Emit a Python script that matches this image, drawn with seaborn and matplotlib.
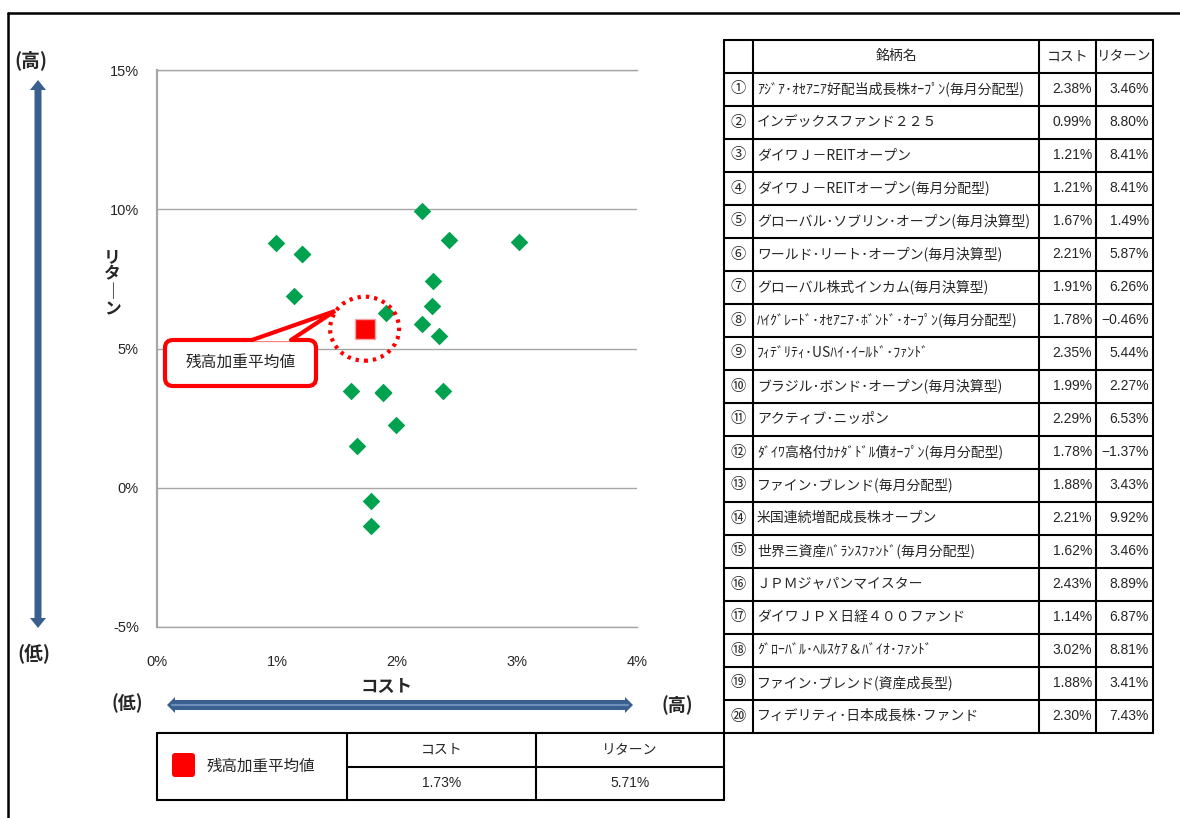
import numpy as np
import pandas as pd
import matplotlib
matplotlib.use('Agg')
import matplotlib.pyplot as plt
import matplotlib.font_manager as fm
from matplotlib.patches import FancyBboxPatch, Polygon, Ellipse, Rectangle, FancyArrow
import seaborn as sns

# data
fund_names = [
    'ｱｼﾞｱ･ｵｾｱﾆｱ好配当成長株ｵｰﾌﾟﾝ(毎月分配型)',
    'インデックスファンド２２５',
    'ダイワＪ－REITオープン',
    'ダイワＪ－REITオープン(毎月分配型)',
    'グローバル･ソブリン･オープン(毎月決算型)',
    'ワールド･リート･オープン(毎月決算型)',
    'グローバル株式インカム(毎月決算型)',
    'ﾊｲｸﾞﾚｰﾄﾞ･ｵｾｱﾆｱ･ﾎﾞﾝﾄﾞ･ｵｰﾌﾟﾝ(毎月分配型)',
    'ﾌｨﾃﾞﾘﾃｨ･USﾊｲ･ｲｰﾙﾄﾞ･ﾌｧﾝﾄﾞ',
    'ブラジル･ボンド･オープン(毎月決算型)',
    'アクティブ･ニッポン',
    'ﾀﾞｲﾜ高格付ｶﾅﾀﾞﾄﾞﾙ債ｵｰﾌﾟﾝ(毎月分配型)',
    'ファイン･ブレンド(毎月分配型)',
    '米国連続増配成長株オープン',
    '世界三資産ﾊﾞﾗﾝｽﾌｧﾝﾄﾞ(毎月分配型)',
    'ＪＰＭジャパンマイスター',
    'ダイワＪＰＸ日経４００ファンド',
    'ｸﾞﾛｰﾊﾞﾙ･ﾍﾙｽｹｱ＆ﾊﾞｲｵ･ﾌｧﾝﾄﾞ',
    'ファイン･ブレンド(資産成長型)',
    'フィデリティ･日本成長株･ファンド',
]
fund_no = ['①', '②', '③', '④', '⑤', '⑥', '⑦', '⑧', '⑨', '⑩',
           '⑪', '⑫', '⑬', '⑭', '⑮', '⑯', '⑰', '⑱', '⑲', '⑳']
cost = [2.38, 0.99, 1.21, 1.21, 1.67, 2.21, 1.91, 1.78, 2.35, 1.99,
        2.29, 1.78, 1.88, 2.21, 1.62, 2.43, 1.14, 3.02, 1.88, 2.30]
ret = [3.46, 8.80, 8.41, 8.41, 1.49, 5.87, 6.26, -0.46, 5.44, 2.27,
       6.53, -1.37, 3.43, 9.92, 3.46, 8.89, 6.87, 8.81, 3.41, 7.43]
avg_cost = 1.73
avg_ret = 5.71
x_ticks = [0, 1, 2, 3, 4]
y_ticks = [-5, 0, 5, 10, 15]

df = pd.DataFrame({'cost': cost, 'ret': ret})

sns.set_style('white')
plt.rcParams['font.family'] = ['Noto Sans CJK JP', 'DejaVu Sans']

installed = {f.name for f in fm.fontManager.ttflist}
narrow = ['Liberation Sans Narrow'] if 'Liberation Sans Narrow' in installed else ['Liberation Sans']
num_font = narrow + ['DejaVu Sans']
tick_font = ['Liberation Sans', 'DejaVu Sans']

W, H = 1180, 818
fig = plt.figure(figsize=(W / 100, H / 100), dpi=100)
fig.patch.set_facecolor('white')

green = '#00A24F'
navy = '#3A5F8E'
grid_c = '#A6A6A6'

# scatter chart
ax = fig.add_axes([157 / W, 1 - 627 / H, 480 / W, 557 / H])
sns.scatterplot(data=df, x='cost', y='ret', marker='D', s=80, color=green,
                edgecolor=green, linewidth=0, ax=ax, zorder=3)
sns.scatterplot(x=[avg_cost], y=[avg_ret], marker='s', s=215, color='#FF0000',
                edgecolor='#F3A3A3', linewidth=1, ax=ax, zorder=4)
ax.add_patch(Ellipse((avg_cost, avg_ret), 0.575, 2.3, fill=False, ec='#FF0000',
                     lw=3, ls=(0, (0.8, 1.2)), zorder=5))
ax.set_xlim(0, 4)
ax.set_ylim(-5, 15)
ax.set_xticks(x_ticks)
ax.set_xticklabels([f'{v}%' for v in x_ticks], family=tick_font, fontsize=10.5, color='#262626')
ax.set_yticks(y_ticks)
ax.set_yticklabels([f'{v}%' for v in y_ticks], family=tick_font, fontsize=10.5, color='#262626')
ax.tick_params(length=0)
ax.tick_params(axis='y', pad=13)
ax.tick_params(axis='x', pad=20)
ax.set_xlabel('')
ax.set_ylabel('')
ax.grid(axis='y', color=grid_c, lw=1)
ax.grid(axis='x', visible=False)
for side in ['left', 'top', 'bottom']:
    ax.spines[side].set_color(grid_c)
    ax.spines[side].set_linewidth(1)
ax.spines['left'].set_linewidth(1.6)
ax.spines['right'].set_visible(False)

# overlay in pixel coordinates for frame, arrows, callout and tables
ov = fig.add_axes([0, 0, 1, 1], zorder=10)
ov.set_xlim(0, W)
ov.set_ylim(H, 0)
ov.axis('off')
ov.patch.set_alpha(0)

ov.plot([8, W], [13, 13], color='black', lw=1.8)
ov.plot([8, 8], [13, H], color='black', lw=1.8)

# axis arrows
ov.add_patch(FancyArrow(38, 352, 0, -272, width=7, head_width=16, head_length=10,
                        length_includes_head=True, color=navy, lw=0))
ov.add_patch(FancyArrow(38, 352, 0, 276, width=7, head_width=16, head_length=10,
                        length_includes_head=True, color=navy, lw=0))
ov.add_patch(FancyArrow(400, 705, -233, 0, width=10, head_width=16, head_length=8,
                        length_includes_head=True, color=navy, lw=0))
ov.add_patch(FancyArrow(400, 705, 233, 0, width=10, head_width=16, head_length=8,
                        length_includes_head=True, color=navy, lw=0))
ov.plot([172, 628], [705, 705], color='#6F8FBA', lw=1.5)

ov.text(31, 60, '(高)', fontsize=13.5, fontweight='bold', ha='center', va='center')
ov.text(34, 654, '(低)', fontsize=13.5, fontweight='bold', ha='center', va='center')
ov.text(112, 283, 'リ\nタ\n｜\nン', fontsize=12, fontweight='bold', ha='center', va='center',
        linespacing=0.95)
ov.text(387, 687, 'コスト', fontsize=12.5, fontweight='bold', ha='center', va='center')
ov.text(127, 703, '(低)', fontsize=13, fontweight='bold', ha='center', va='center')
ov.text(677, 705, '(高)', fontsize=13, fontweight='bold', ha='center', va='center')

# callout
ov.add_patch(FancyBboxPatch((165, 340), 151, 46, boxstyle='round,pad=0,rounding_size=8',
                            fc='white', ec='#FF0000', lw=3))
ov.add_patch(Polygon([(252, 341.5), (335, 311), (291, 341.5)], closed=True,
                     fc='white', ec='none'))
ov.plot([252, 335, 291], [340, 311, 340], color='#FF0000', lw=3, solid_joinstyle='miter')
ov.text(241, 362, '残高加重平均値', fontsize=11.3, ha='center', va='center')

# right table
col_x = [724, 753, 1039, 1096, 1153]
top = 40
hdr_h = 32.5
row_h = 33
n = len(fund_names)
bottom = top + hdr_h + row_h * n
for x in col_x:
    ov.plot([x, x], [top, bottom], color='black', lw=1.5)
ov.plot([col_x[0], col_x[-1]], [top, top], color='black', lw=1.5)
for i in range(n + 1):
    y = top + hdr_h + row_h * i
    ov.plot([col_x[0], col_x[-1]], [y, y], color='black', lw=1.5)

ov.text((col_x[1] + col_x[2]) / 2, top + hdr_h / 2, '銘柄名', fontsize=10, ha='center', va='center')
ov.text((col_x[2] + col_x[3]) / 2, top + hdr_h / 2, 'コスト', fontsize=10, ha='center', va='center')
ov.text((col_x[3] + col_x[4]) / 2, top + hdr_h / 2, 'リターン', fontsize=9.8, ha='center', va='center')
for i in range(n):
    yc = top + hdr_h + row_h * i + row_h / 2
    ov.text(738.5, yc, fund_no[i], fontsize=11, ha='center', va='center')
    ov.text(757, yc, fund_names[i], fontsize=10, ha='left', va='center')
    ov.text(col_x[3] - 4, yc, f'{cost[i]:.2f}%', fontsize=10, family=num_font, ha='right', va='center')
    ov.text(col_x[4] - 4, yc, f'{ret[i]:.2f}%'.replace('-', '−'), fontsize=10, family=num_font,
            ha='right', va='center')

# bottom table
bx = [157, 347, 536, 724]
by = [733, 766.5, 800]
ov.plot([bx[0], bx[-1]], [by[0], by[0]], color='black', lw=1.5)
ov.plot([bx[1], bx[-1]], [by[1], by[1]], color='black', lw=1.5)
ov.plot([bx[0], bx[-1]], [by[2], by[2]], color='black', lw=1.5)
for x in bx:
    ov.plot([x, x], [by[0], by[2]], color='black', lw=1.5)
ov.add_patch(FancyBboxPatch((172, 753), 23, 24, boxstyle='round,pad=0,rounding_size=3',
                            fc='#FF0000', ec='none'))
ov.text(207, 766, '残高加重平均値', fontsize=11.2, ha='left', va='center')
ov.text((bx[1] + bx[2]) / 2, (by[0] + by[1]) / 2, 'コスト', fontsize=10, ha='center', va='center')
ov.text((bx[2] + bx[3]) / 2, (by[0] + by[1]) / 2, 'リターン', fontsize=10, ha='center', va='center')
ov.text((bx[1] + bx[2]) / 2, (by[1] + by[2]) / 2, f'{avg_cost:.2f}%', fontsize=10, family=num_font,
        ha='center', va='center')
ov.text((bx[2] + bx[3]) / 2, (by[1] + by[2]) / 2, f'{avg_ret:.2f}%', fontsize=10, family=num_font,
        ha='center', va='center')

fig.savefig('out.png', dpi=100, facecolor='white')
